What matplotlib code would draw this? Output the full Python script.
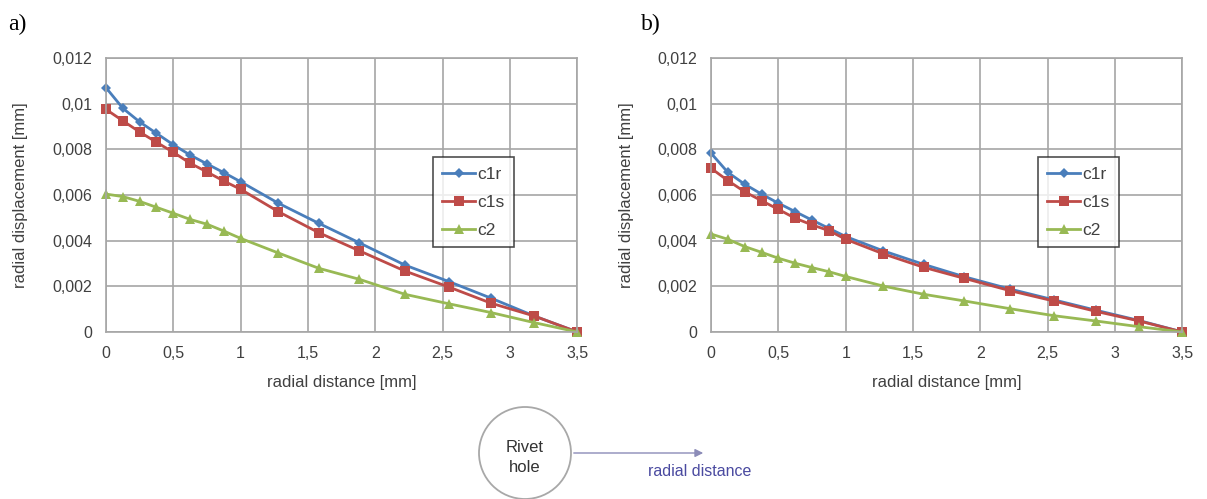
import matplotlib
matplotlib.use('Agg')
import matplotlib.pyplot as plt
from matplotlib.patches import Circle
from matplotlib.ticker import FuncFormatter, MultipleLocator

plt.rcParams['font.family'] = ['Liberation Sans', 'DejaVu Sans']

# radial positions of the evaluation points [mm]
dist = [0, 0.125, 0.25, 0.375, 0.5, 0.625, 0.75, 0.875, 1.0,
        1.28, 1.58, 1.88, 2.22, 2.55, 2.86, 3.18, 3.5]

# a) radial displacement [mm]
a_c1r = [0.0107, 0.0098, 0.0092, 0.0087, 0.0082, 0.00775, 0.00736, 0.00698, 0.00658,
         0.00564, 0.00476, 0.00391, 0.00293, 0.0022, 0.00148, 0.0007, 0.0]
a_c1s = [0.00975, 0.00925, 0.00876, 0.00831, 0.00787, 0.00739, 0.00701, 0.00661, 0.00625,
         0.00527, 0.00435, 0.00356, 0.00267, 0.00196, 0.00126, 0.0007, 0.0]
a_c2 = [0.00604, 0.00593, 0.00572, 0.00546, 0.0052, 0.00493, 0.00472, 0.00442, 0.0041,
        0.00346, 0.00279, 0.00231, 0.00165, 0.00123, 0.00085, 0.00041, 0.0]

# b) radial displacement [mm]
b_c1r = [0.00783, 0.00699, 0.00647, 0.00604, 0.00564, 0.00527, 0.0049, 0.00454, 0.00418,
         0.00355, 0.00296, 0.00242, 0.00188, 0.0014, 0.00095, 0.0005, 0.0]
b_c1s = [0.00717, 0.00663, 0.00614, 0.00575, 0.00537, 0.00498, 0.00469, 0.00444, 0.00406,
         0.00342, 0.00283, 0.00235, 0.00181, 0.00135, 0.0009, 0.00048, 0.0]
b_c2 = [0.00429, 0.00406, 0.00374, 0.00349, 0.00323, 0.00301, 0.00282, 0.00264, 0.00243,
        0.00201, 0.00165, 0.00136, 0.00102, 0.00071, 0.00048, 0.00023, 0.0]

series_names = ['c1r', 'c1s', 'c2']
panel_tags = ['a)', 'b)']

styles = [dict(color='#4a7ebb', marker='D', markersize=5),
          dict(color='#be4b48', marker='s', markersize=7),
          dict(color='#98b954', marker='^', markersize=6.5)]

txt_col = '#404040'
grid_col = '#a6a6a6'


def comma_fmt(v, pos):
    if abs(v) < 1e-12:
        return '0'
    return ('%g' % v).replace('.', ',')


fig = plt.figure(figsize=(12.07, 4.99), dpi=100)

panels = [(a_c1r, a_c1s, a_c2), (b_c1r, b_c1s, b_c2)]
lefts = [0.0878, 0.5891]
tag_x = [0.007, 0.531]

for k, data in enumerate(panels):
    ax = fig.add_axes([lefts[k], 0.3347, 0.3905, 0.5491])
    for vals, name, st in zip(data, series_names, styles):
        ax.plot(dist, vals, label=name, lw=2, markeredgewidth=0, clip_on=False, **st)
    ax.set_xlim(0, 3.5)
    ax.set_ylim(0, 0.012)
    ax.xaxis.set_major_locator(MultipleLocator(0.5))
    ax.yaxis.set_major_locator(MultipleLocator(0.002))
    ax.xaxis.set_major_formatter(FuncFormatter(comma_fmt))
    ax.yaxis.set_major_formatter(FuncFormatter(comma_fmt))
    ax.grid(True, color=grid_col, lw=1.2)
    ax.set_axisbelow(True)
    for sp in ax.spines.values():
        sp.set_color(grid_col)
        sp.set_linewidth(1.2)
    ax.tick_params(length=0, labelsize=11.5, labelcolor=txt_col, pad=10)
    ax.set_xlabel('radial distance [mm]', fontsize=12, color=txt_col, labelpad=10)
    ax.set_ylabel('radial displacement [mm]', fontsize=12, color=txt_col, labelpad=17)
    leg = ax.legend(loc='upper left', bbox_to_anchor=(0.693, 0.639), borderaxespad=0,
                    fancybox=False, edgecolor='#222222', fontsize=12.5, handlelength=1.9,
                    handletextpad=0.1, labelspacing=0.75, borderpad=0.55)
    leg.get_frame().set_linewidth(1.2)
    for t in leg.get_texts():
        t.set_color(txt_col)
    fig.text(tag_x[k], 0.95, panel_tags[k], family=['Liberation Serif'],
             fontsize=17, va='center', ha='left')

# sketch of the rivet hole and the radial direction
sk = fig.add_axes([0, 0, 1, 1], zorder=-1)
sk.set_xlim(0, 1207)
sk.set_ylim(499, 0)
sk.axis('off')
sk.add_patch(Circle((525, 453), 46, fill=False, edgecolor='#a8a8a8', lw=1.3))
sk.text(525, 447, 'Rivet', ha='center', va='center', fontsize=12, color='#333333')
sk.text(525, 467, 'hole', ha='center', va='center', fontsize=12, color='#333333')
sk.annotate('', xy=(706, 453), xytext=(571, 453),
            arrowprops=dict(arrowstyle='-|>', color='#8c8cb8', lw=1,
                            mutation_scale=12))
sk.text(700, 472, 'radial distance', ha='center', va='center', fontsize=11.5,
        color='#4a4aa0')

fig.savefig('out.png', dpi=100)
